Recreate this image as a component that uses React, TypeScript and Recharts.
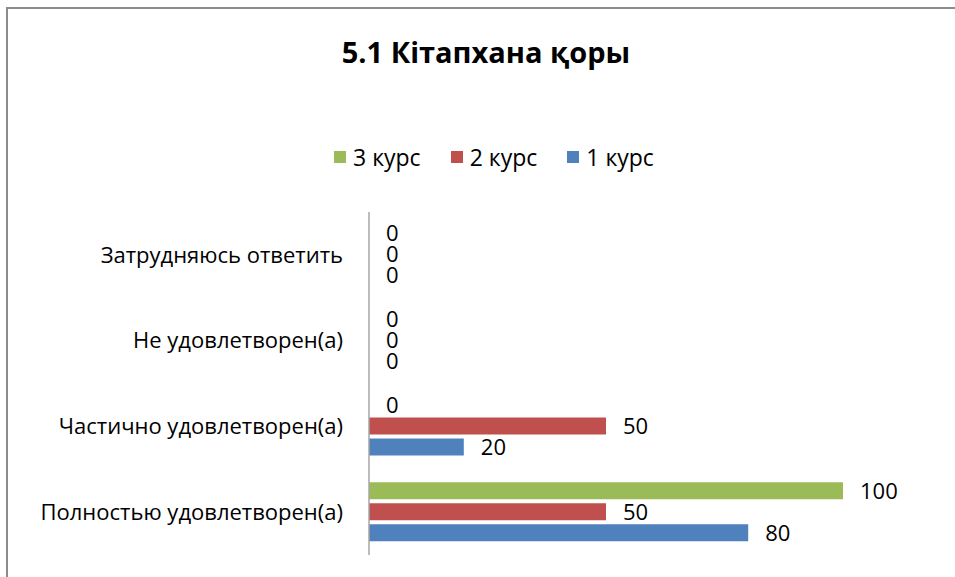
import React from 'react';
import { BarChart, Bar, XAxis, YAxis, LabelList } from 'recharts';

// categories listed top to bottom as drawn
const categories = [
    'Затрудняюсь ответить',
    'Не удовлетворен(а)',
    'Частично удовлетворен(а)',
    'Полностью удовлетворен(а)',
];
const course1 = [0, 0, 20, 80];
const course2 = [0, 0, 50, 50];
const course3 = [0, 0, 0, 100];

const series = [
    { key: 'c3', name: '3 курс', color: '#9bbb59' },
    { key: 'c2', name: '2 курс', color: '#c0504d' },
    { key: 'c1', name: '1 курс', color: '#4f81bd' },
];

const data = categories.map((name, i) => ({
    name,
    c1: course1[i],
    c2: course2[i],
    c3: course3[i],
}));

const FONT = '"Open Sans", "Noto Sans", sans-serif';

// draws the value just right of the bar end, also for zero-width bars
const ValueLabel = (props: any) => {
    const { x, y, width, height, value } = props;
    return (
        <text
            x={Number(x) + Math.max(Number(width) || 0, 0) + 17}
            y={Number(y) + Number(height) / 2}
            dy="0.36em"
            fill="#000"
            fontSize={22}
            fontFamily={FONT}
        >
            {value}
        </text>
    );
};

const App: React.FC = () => {
    return (
        <div style={{ position: 'absolute', left: 0, top: 0, width: 955, height: 577, overflow: 'hidden', background: '#fff', fontFamily: FONT }}>
            <div style={{ position: 'absolute', left: 6, top: 7, width: 980, height: 600, border: '2px solid #8c8c8c', boxSizing: 'border-box' }} />
            <div style={{ position: 'absolute', left: 0, top: 32, width: 972, textAlign: 'center', fontSize: 29, fontWeight: 700, color: '#000' }}>
                5.1 Кітапхана қоры
            </div>
            <div style={{ position: 'absolute', left: 334, top: 141, display: 'flex', alignItems: 'center', fontSize: 23, color: '#000' }}>
                {series.map((s) => (
                    <div key={s.key} style={{ display: 'flex', alignItems: 'center', marginRight: 30 }}>
                        <span style={{ display: 'inline-block', width: 12, height: 12, background: s.color, marginRight: 7 }} />
                        <span>{s.name}</span>
                    </div>
                ))}
            </div>
            <div style={{ position: 'absolute', left: 0, top: 0 }}>
                <BarChart
                    width={955}
                    height={577}
                    layout="vertical"
                    data={data}
                    margin={{ top: 212, right: 112, bottom: 22, left: 0 }}
                    barSize={17}
                    barGap={4}
                >
                    <XAxis type="number" domain={[0, 100]} hide />
                    <YAxis
                        type="category"
                        dataKey="name"
                        width={369}
                        tickSize={0}
                        tickMargin={26}
                        axisLine={{ stroke: '#a6a6a6', strokeWidth: 1.5 }}
                        tickLine={false}
                        tick={{ fill: '#000', fontSize: 22, fontFamily: FONT }}
                    />
                    {series.map((s) => (
                        <Bar key={s.key} dataKey={s.key} name={s.name} fill={s.color} minPointSize={0.01} isAnimationActive={false}>
                            <LabelList dataKey={s.key} content={ValueLabel} />
                        </Bar>
                    ))}
                </BarChart>
            </div>
        </div>
    );
};

export default App;
